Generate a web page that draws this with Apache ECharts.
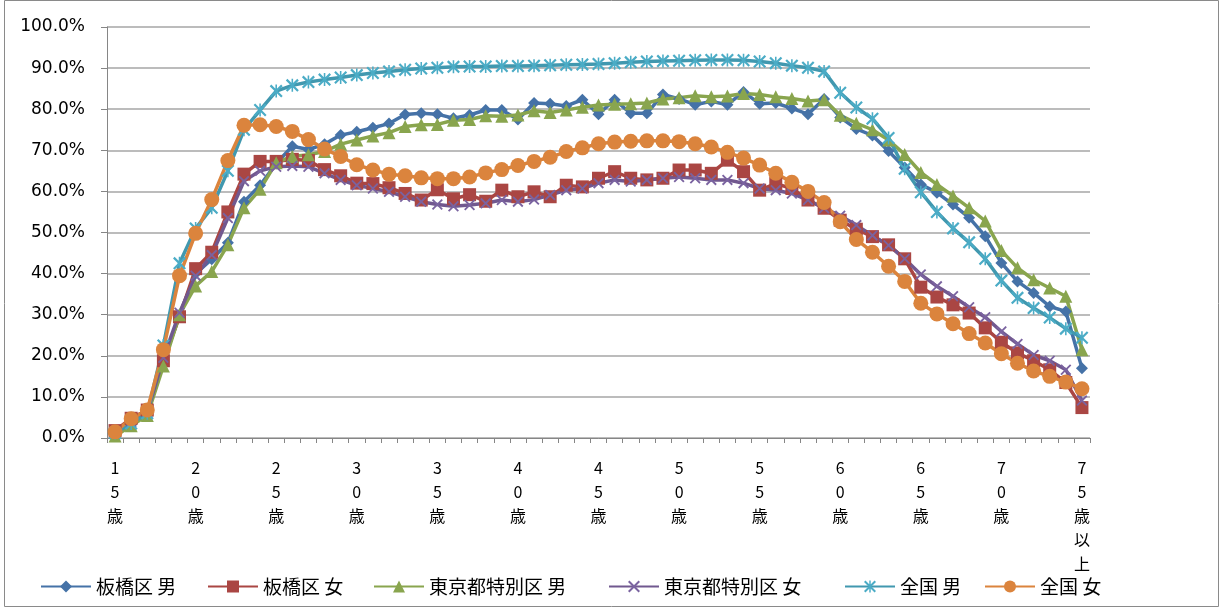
<!DOCTYPE html>
<html>
<head>
<meta charset="utf-8">
<script src="https://cdn.jsdelivr.net/npm/echarts@6/dist/echarts.min.js"></script>
<style>
html,body{margin:0;padding:0;background:#fff;}
#chart{width:1223px;height:609px;}
</style>
</head>
<body>
<div id="chart"></div>
<script>
var categories = ['15歳','16歳','17歳','18歳','19歳','20歳','21歳','22歳','23歳','24歳',
  '25歳','26歳','27歳','28歳','29歳','30歳','31歳','32歳','33歳','34歳',
  '35歳','36歳','37歳','38歳','39歳','40歳','41歳','42歳','43歳','44歳',
  '45歳','46歳','47歳','48歳','49歳','50歳','51歳','52歳','53歳','54歳',
  '55歳','56歳','57歳','58歳','59歳','60歳','61歳','62歳','63歳','64歳',
  '65歳','66歳','67歳','68歳','69歳','70歳','71歳','72歳','73歳','74歳','75歳以上'];

var itabashiMale = [1.3,3.2,5.8,18.5,30,40,43.5,47.5,57.5,61.5,
  66.8,71,70.2,71.5,73.7,74.5,75.5,76.5,78.7,79,
  78.8,77.8,78.6,79.8,79.8,77.5,81.5,81.3,80.8,82.3,
  78.8,82.3,79,79,83.6,82.5,81.1,81.9,81.1,84.2,
  81.3,81.5,80.2,78.8,82.5,78,75.2,73.6,69.8,65.8,
  61.7,59.7,56.8,53.6,49.1,42.6,38.1,35.3,32,30.8,17];

var itabashiFemale = [1.8,4.8,6.8,18.8,29.5,41.2,45.2,55,64.2,67.3,
  67.3,67.8,67.5,65.3,63.8,62,61.9,60.9,59.5,57.9,
  60.4,58.2,59.2,57.6,60.3,58.7,59.9,58.7,61.5,61.1,
  63.2,64.8,63.2,62.8,63.2,65.2,65.2,64.4,67.6,64.8,
  60.3,61.9,60.7,57.9,55.9,53,50.8,49,47,43.6,
  36.7,34.3,32.4,30.4,26.8,23.3,20.7,18.8,16.6,13.5,7.4];

var tokyoMale = [0.5,3,5.5,17.5,30,37,40.5,47,56,60.5,
  67,68.5,68.9,69.7,71.5,72.5,73.5,74.3,75.8,76.2,
  76.3,77.3,77.5,78.4,78.3,78.6,79.6,79.2,79.8,80.5,
  81,81.2,81.3,81.5,82.5,82.8,83.3,83,83.2,83.8,
  83.6,83,82.6,82,82.3,78.5,76.6,75,72.5,69,
  64.6,61.7,58.9,56,52.8,45.6,41.4,38.5,36.5,34.5,21.5];

var tokyoFemale = [1.5,3.8,6.2,19.5,30.5,39.5,44.5,53.5,62.5,65,
  66,66.2,66,64.4,62.8,61.5,60.7,59.9,58.7,57.5,
  56.8,56.4,56.7,57.1,57.9,57.5,58,59.1,60.3,60.7,
  62,62.8,62.4,62.8,63.2,63.5,63.2,62.8,62.8,62,
  60.7,60.3,59.5,57.9,55.9,54.1,51.8,49.3,46.9,43.6,
  39.8,36.9,34.5,31.8,29.4,25.9,22.9,20.2,18.8,16.6,9.1];

var nationMale = [1.2,3.5,6,22.5,42.5,51,56,65,75,79.8,
  84.4,85.8,86.6,87.2,87.7,88.3,88.8,89.2,89.6,89.9,
  90.1,90.3,90.4,90.4,90.5,90.5,90.6,90.7,90.8,90.9,
  91,91.2,91.4,91.6,91.7,91.8,91.9,92,92,91.9,
  91.6,91.2,90.6,90.1,89.2,84,80.4,77.7,73,65.5,
  59.8,55,51,47.6,43.6,38.3,34.1,31.6,29.3,26.6,24.4];

var nationFemale = [1.5,4.7,6.8,21.5,39.5,49.8,58,67.5,76.1,76.2,
  75.8,74.6,72.6,70.3,68.5,66.5,65.2,64.2,63.8,63.3,
  63.1,63.1,63.5,64.5,65.3,66.3,67.3,68.3,69.7,70.6,
  71.6,72,72.2,72.3,72.3,72.1,71.6,70.8,69.5,68.1,
  66.4,64.4,62.2,60,57.3,52.6,48.3,45.2,41.8,38.1,
  32.8,30.2,27.8,25.4,23.1,20.5,18.2,16.3,15,13.6,12];

var seriesNames = ['板橋区 男','板橋区 女','東京都特別区 男','東京都特別区 女','全国 男','全国 女'];

var FONT = '"Noto Sans CJK JP", "Noto Sans", sans-serif';
var xSym = 'path://M0,1.2L1.2,0L10,8.8L8.8,10Z M8.8,0L10,1.2L1.2,10L0,8.8Z';
var starSym = 'path://M0,1.2L1.2,0L10,8.8L8.8,10Z M8.8,0L10,1.2L1.2,10L0,8.8Z M4.4,0L5.6,0L5.6,10L4.4,10Z';

function mk(name, data, color, symbol, size, symColor) {
  return {
    name: name, type: 'line', data: data,
    symbol: symbol, symbolSize: size, showAllSymbol: true,
    lineStyle: {color: color, width: 3.5},
    itemStyle: {color: symColor || color},
    emphasis: {disabled: true},
    animation: false
  };
}

var legendLefts = [40, 207, 373, 608, 844, 984];
var legends = seriesNames.map(function (n, i) {
  return {
    left: legendLefts[i], top: 577, padding: 0,
    itemWidth: 50, itemHeight: 15, itemGap: 0,
    textStyle: {fontSize: 19, color: '#000', fontFamily: FONT},
    data: [n]
  };
});

var chart = echarts.init(document.getElementById('chart'));
chart.setOption({
  backgroundColor: '#fff',
  animation: false,
  textStyle: {fontFamily: FONT},
  graphic: [{
    type: 'rect', silent: true,
    shape: {x: 4.5, y: 0.5, width: 1214, height: 606},
    style: {fill: 'none', stroke: '#8a8a8a', lineWidth: 1}
  }],
  grid: {left: 107, right: 133, top: 27, bottom: 171, containLabel: false},
  legend: legends,
  xAxis: {
    type: 'category', data: categories, boundaryGap: true,
    axisLine: {lineStyle: {color: '#868686', width: 1}},
    axisTick: {show: true, interval: 0, length: 5, lineStyle: {color: '#868686'}},
    axisLabel: {
      interval: 4, margin: 18, fontSize: 16, color: '#000', lineHeight: 24,
      fontFamily: FONT,
      formatter: function (v) { return v.split('').join('\n'); }
    }
  },
  yAxis: {
    type: 'value', min: 0, max: 100, interval: 10,
    axisLine: {show: true, lineStyle: {color: '#868686', width: 1}},
    axisTick: {show: true, length: 6, lineStyle: {color: '#868686'}},
    splitLine: {lineStyle: {color: '#a6a6a6', width: 1.5}},
    axisLabel: {
      margin: 22, fontSize: 17, color: '#000', fontFamily: '"DejaVu Sans", sans-serif',
      formatter: function (v) { return v.toFixed(1) + '%'; }
    }
  },
  series: [
    mk(seriesNames[0], itabashiMale, '#4572A7', 'diamond', 12),
    mk(seriesNames[1], itabashiFemale, '#AA4643', 'rect', 13),
    mk(seriesNames[2], tokyoMale, '#89A54E', 'triangle', 13),
    mk(seriesNames[3], tokyoFemale, '#71588F', xSym, 11, '#7a63a0'),
    mk(seriesNames[4], nationMale, '#4198AF', starSym, 13, '#4bacc6'),
    mk(seriesNames[5], nationFemale, '#DB843D', 'circle', 15)
  ]
});
</script>
</body>
</html>
